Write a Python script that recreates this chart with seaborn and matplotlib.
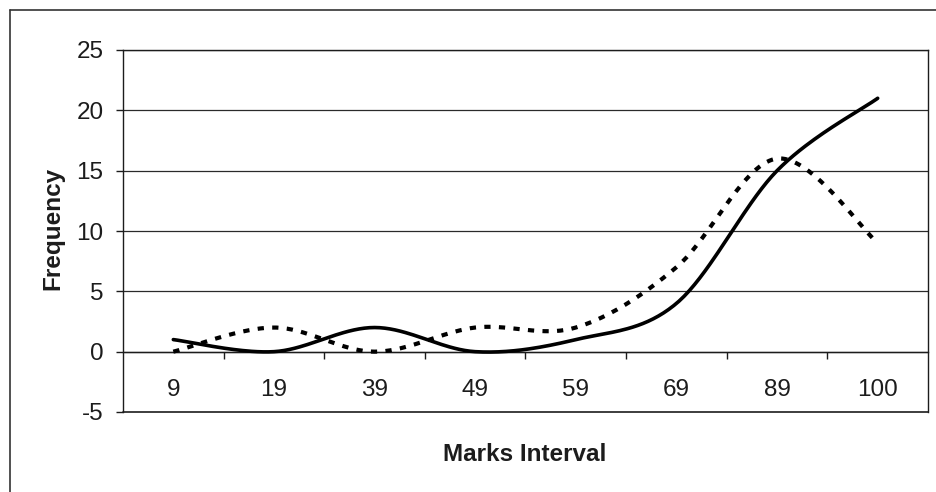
import numpy as np
import pandas as pd
import matplotlib
matplotlib.use("Agg")
import matplotlib.pyplot as plt
from matplotlib.lines import Line2D
import seaborn as sns

# ---- data ----
categories = ["9", "19", "39", "49", "59", "69", "89", "100"]
series_solid = [1, 0, 2, 0, 1, 4, 15, 21]
series_dotted = [0, 2, 0, 2, 2, 7, 16, 9]
y_ticks = [-5, 0, 5, 10, 15, 20, 25]
x_label = "Marks Interval"
y_label = "Frequency"

sns.set_theme(style="white")
plt.rcParams["font.family"] = ["Liberation Sans", "DejaVu Sans"]


def smooth(values, steps=40):
    """Excel-like smoothed line (Catmull-Rom Bezier) through the data points."""
    pts = np.column_stack([np.arange(len(values), dtype=float), np.asarray(values, float)])
    n = len(pts)
    out = []
    t = np.linspace(0, 1, steps)[:, None]
    for i in range(n - 1):
        p0 = pts[i - 1] if i > 0 else pts[i]
        p1, p2 = pts[i], pts[i + 1]
        p3 = pts[i + 2] if i + 2 < n else pts[i + 1]
        c1 = p1 + (p2 - p0) / 6.0
        c2 = p2 - (p3 - p1) / 6.0
        seg = ((1 - t) ** 3) * p1 + 3 * ((1 - t) ** 2) * t * c1 + 3 * (1 - t) * t ** 2 * c2 + t ** 3 * p2
        out.append(seg if i == 0 else seg[1:])
    arr = np.vstack(out)
    return arr[:, 0], arr[:, 1]


W, H = 937, 492
fig = plt.figure(figsize=(W / 100, H / 100), dpi=100)
ax = fig.add_axes([123 / W, 1 - 412 / H, 805 / W, 362 / H])

ink = "#1c1c1c"
fs = 17.5

# gridlines
for yv in y_ticks[1:]:
    ax.axhline(yv, color="#2a2a2a", lw=0.9, zorder=1)

xs, ys = smooth(series_solid)
df_s = pd.DataFrame({"x": xs, "y": ys})
sns.lineplot(data=df_s, x="x", y="y", ax=ax, color="black", lw=2.6,
             sort=False, estimator=None, zorder=3)

xd, yd = smooth(series_dotted)
df_d = pd.DataFrame({"x": xd, "y": yd})
sns.lineplot(data=df_d, x="x", y="y", ax=ax, color="black", lw=3.0,
             sort=False, estimator=None, zorder=3)
ax.lines[-1].set_linestyle((0, (1.5, 2.0)))
ax.lines[-1].set_dash_capstyle("butt")

ax.set_xlim(-0.5, len(categories) - 0.5)
ax.set_ylim(-5, 25)

# spines: bottom moved to y=0 (category axis), frame drawn at -5
for s in ["left", "right", "top"]:
    ax.spines[s].set_visible(True)
    ax.spines[s].set_color(ink)
    ax.spines[s].set_linewidth(1.0)
ax.spines["bottom"].set_position(("data", 0))
ax.spines["bottom"].set_color(ink)
ax.spines["bottom"].set_linewidth(1.0)
ax.plot([0, 1], [0, 0], transform=ax.transAxes, color=ink, lw=1.2, clip_on=False, zorder=4)

# x ticks: marks at category boundaries, labels at category centres
ax.set_xticks(np.arange(len(categories) - 1) + 0.5)
ax.set_xticklabels([])
ax.set_xticks(np.arange(len(categories)), minor=True)
ax.set_xticklabels(categories, minor=True)
ax.tick_params(axis="x", which="major", direction="out", length=5, width=1, color=ink, bottom=True)
ax.tick_params(axis="x", which="minor", length=0, pad=20, labelsize=fs, labelcolor=ink, bottom=True)

ax.set_yticks(y_ticks)
ax.set_yticklabels([str(v) for v in y_ticks])
ax.tick_params(axis="y", direction="out", length=5, width=1, color=ink, left=True,
               pad=9, labelsize=fs, labelcolor=ink)

ax.set_xlabel(x_label, fontsize=fs, fontweight="bold", color=ink)
ax.set_ylabel(y_label, fontsize=fs, fontweight="bold", color=ink)
ax.xaxis.set_label_coords(0.4994, -0.117)
ax.xaxis.label.set_va("center")
ax.yaxis.set_label_coords(-0.087, 0.508)
ax.yaxis.label.set_va("center")

# outer chart frame (left and top edges visible in the crop)
fig.add_artist(Line2D([10 / W, 10 / W], [0, 1 - 10 / H], color="#333333", lw=1.2))
fig.add_artist(Line2D([10 / W, 1], [1 - 10 / H, 1 - 10 / H], color="#333333", lw=1.2))

fig.savefig("out.png", dpi=100, facecolor="white")
